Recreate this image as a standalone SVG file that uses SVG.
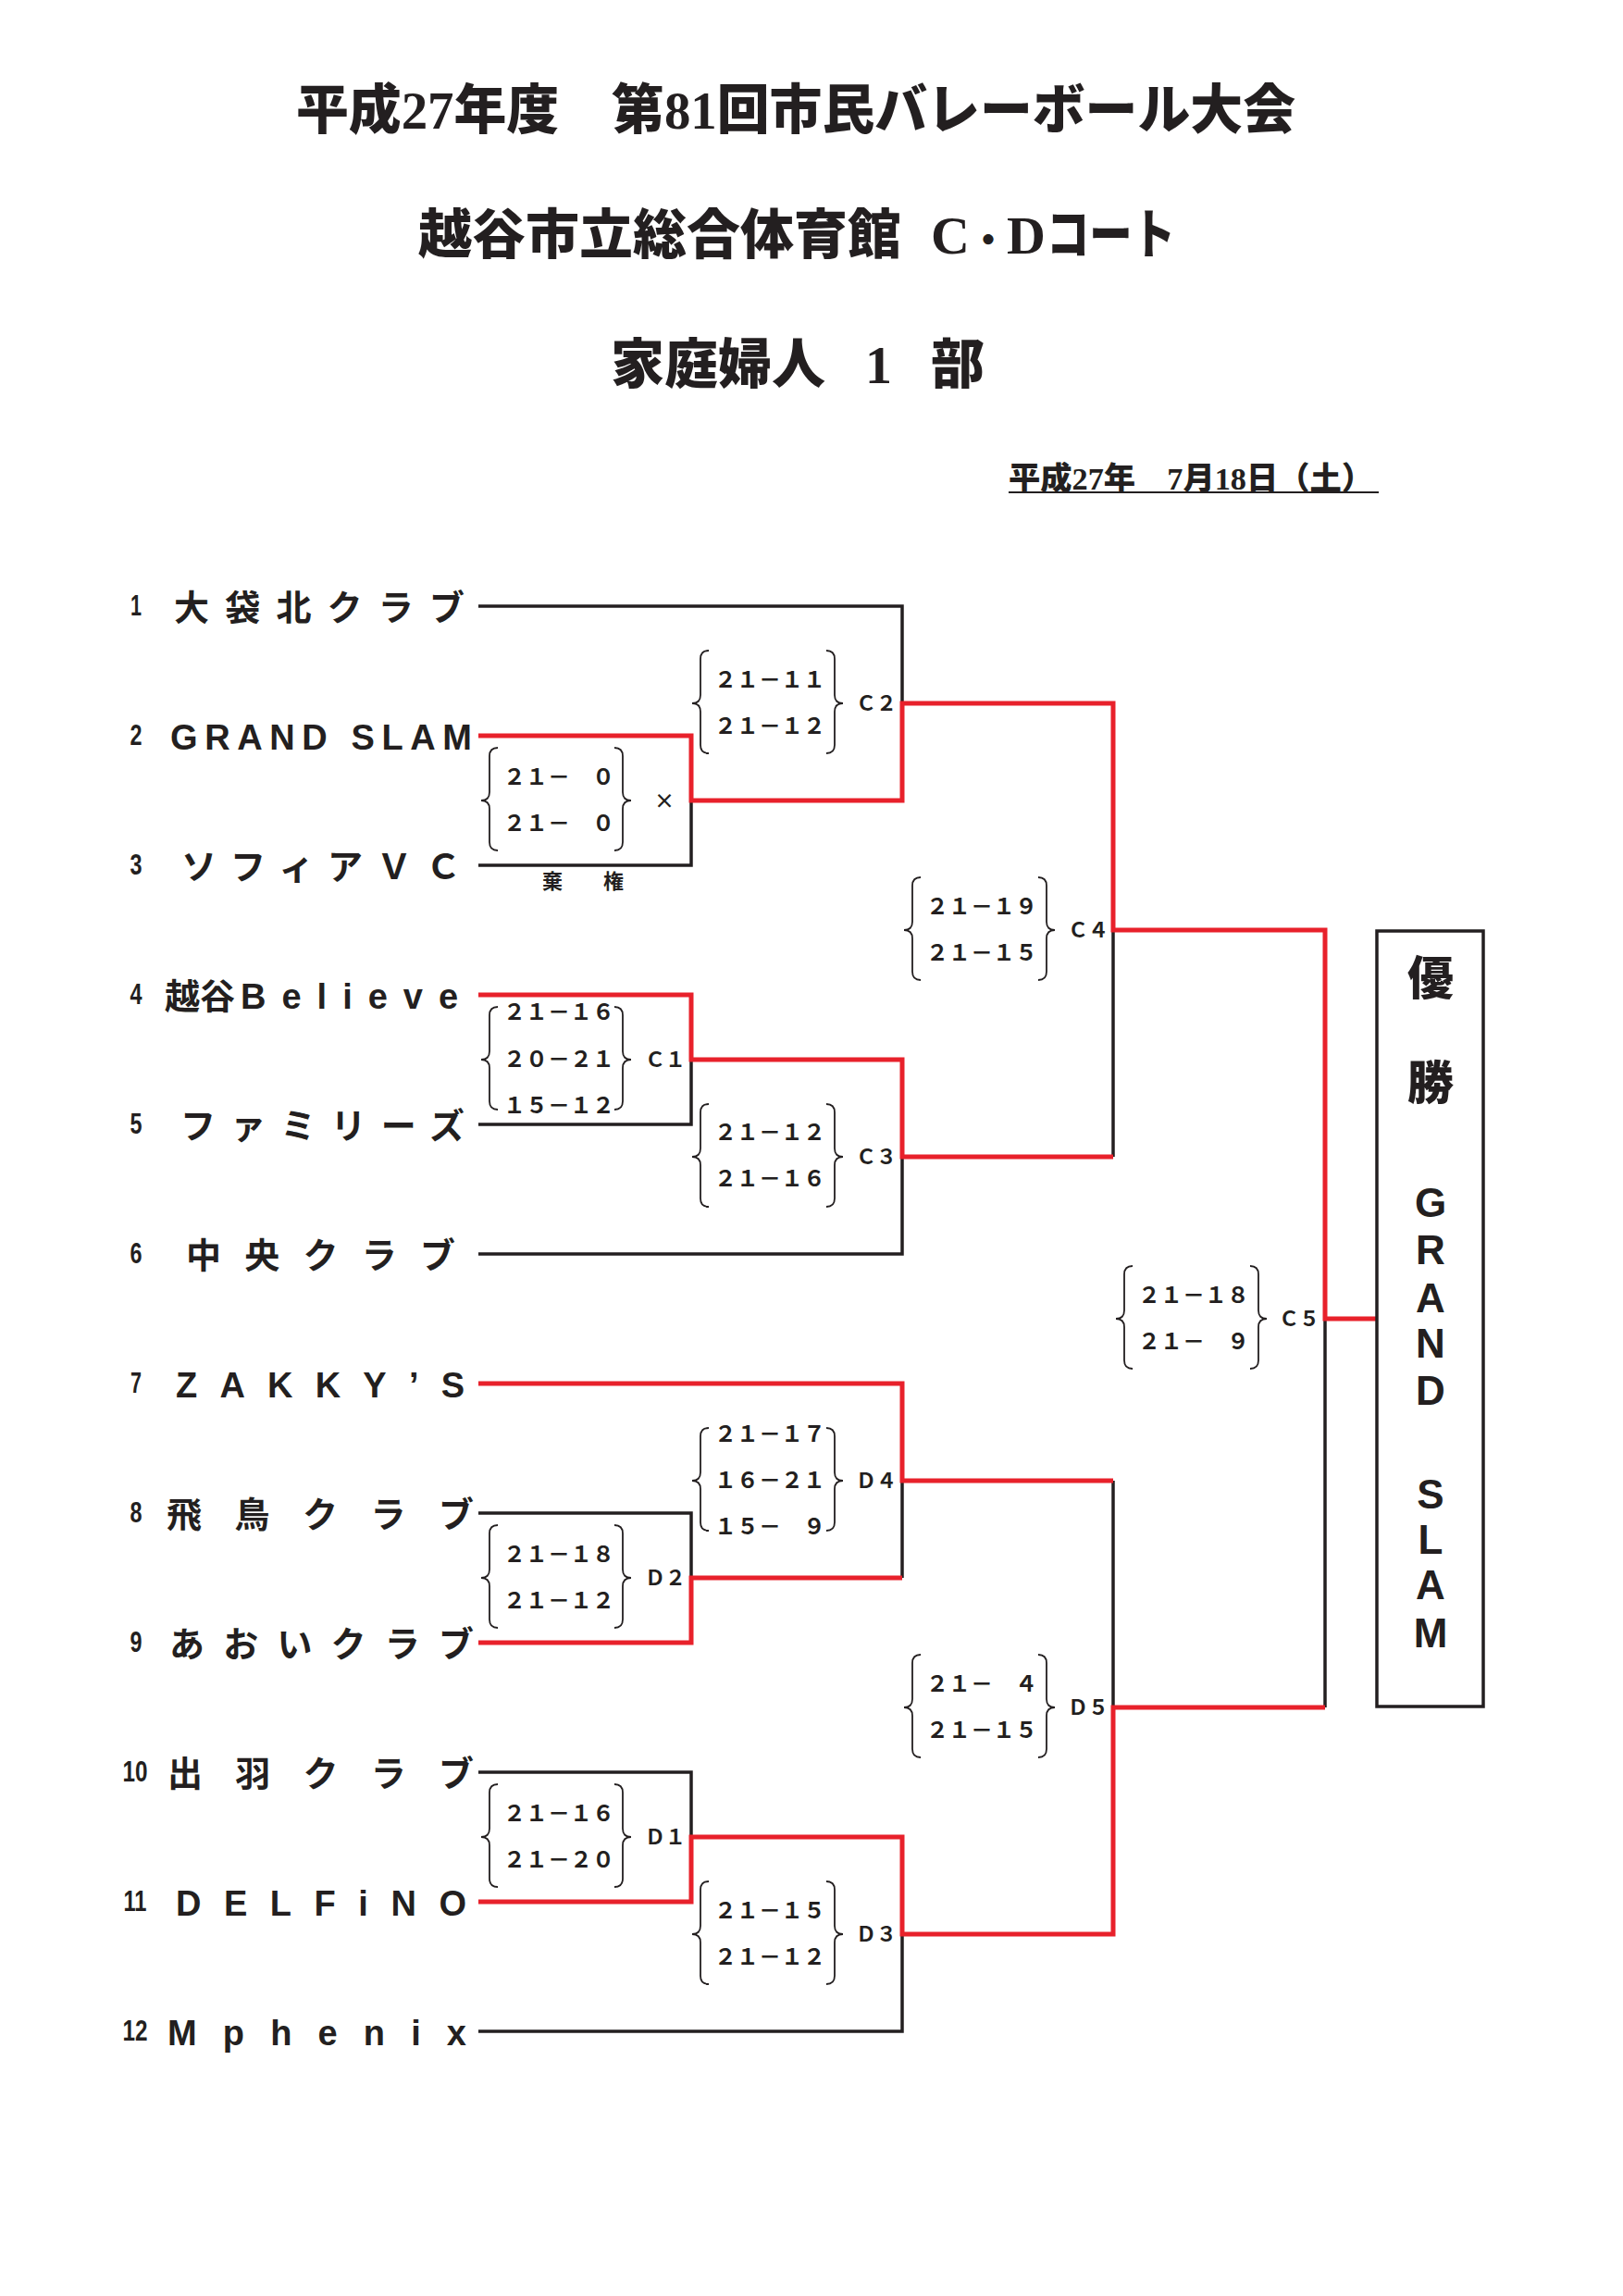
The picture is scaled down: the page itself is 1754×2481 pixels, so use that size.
<svg xmlns="http://www.w3.org/2000/svg" xmlns:xlink="http://www.w3.org/1999/xlink" width="1754" height="2481" viewBox="0 0 1754 2481">
<style>
.ttl{font-family:'Liberation Serif','Noto Sans CJK JP',serif;font-weight:900;fill:#231F20}
.nm{font-family:'Liberation Sans','Noto Sans CJK JP',sans-serif;font-weight:bold;font-size:38px;fill:#231F20}
.no{font-family:'Liberation Sans Narrow','Liberation Sans',sans-serif;font-weight:bold;font-size:31px;fill:#231F20;text-anchor:middle}
.sc{font-family:'Noto Sans CJK JP',sans-serif;font-weight:bold;font-size:24px;fill:#231F20}
.lb{font-family:'Noto Sans CJK JP',sans-serif;font-weight:bold;font-size:22px;fill:#231F20}
.bk{fill:none;stroke:#231F20;stroke-width:3.5;stroke-linejoin:miter}
.rd{fill:none;stroke:#E8212B;stroke-width:5;stroke-linejoin:miter}
.br{fill:none;stroke:#231F20;stroke-width:1.8}
.win{font-family:'Liberation Sans','Noto Sans CJK JP',sans-serif;font-weight:bold;font-size:44px;fill:#231F20;text-anchor:middle}
.wk{font-family:'Noto Sans CJK JP',sans-serif;font-weight:900;font-size:50px;fill:#231F20;text-anchor:middle}
</style>
<defs>
<path id="bl" d="M18,-57 Q9,-57 9,-48 V-9 Q9,0 0,0 Q9,0 9,9 V45 Q9,54 18,54"/>
<path id="brr" d="M-18,-57 Q-9,-57 -9,-48 V-9 Q-9,0 0,0 Q-9,0 -9,9 V45 Q-9,54 -18,54"/>
</defs>
<rect width="1754" height="2481" fill="#fff"/>

<g id="titles">
<text class="ttl" x="320" y="139" font-size="58" textLength="1080" lengthAdjust="spacingAndGlyphs">平成27年度　第81回市民バレーボール大会</text>
<text class="ttl" y="274" font-size="58"><tspan x="452">越谷市立総合体育館</tspan><tspan x="975" font-size="30">　</tspan><tspan x="1006">C</tspan><tspan x="1048" font-size="40">・</tspan><tspan x="1088">D</tspan><tspan x="1131" textLength="139" lengthAdjust="spacingAndGlyphs">コート</tspan></text>
<text class="ttl" y="414" font-size="58"><tspan x="660">家庭婦人</tspan><tspan x="892" font-size="43">　</tspan><tspan x="935">1</tspan><tspan x="964" font-size="42">　</tspan><tspan x="1006">部</tspan></text>
<text class="ttl" x="1090" y="529" font-size="34" textLength="394" lengthAdjust="spacingAndGlyphs">平成27年　7月18日（土）</text>
<line x1="1090" y1="532" x2="1490" y2="532" stroke="#231F20" stroke-width="2.2"/>
</g>

<g id="teams">
<g id="team1"><text class="no" x="147" y="665" textLength="12" lengthAdjust="spacingAndGlyphs">1</text><text class="nm" x="188" y="670" textLength="314" lengthAdjust="spacing">大袋北クラブ</text></g>
<g id="team2"><text class="no" x="147" y="805" textLength="13" lengthAdjust="spacingAndGlyphs">2</text><text class="nm" x="184" y="810" textLength="326" lengthAdjust="spacing">GRAND SLAM</text></g>
<g id="team3"><text class="no" x="147" y="945" textLength="13" lengthAdjust="spacingAndGlyphs">3</text><text class="nm" x="196" y="950" textLength="302" lengthAdjust="spacing">ソフィアＶＣ</text></g>
<g id="team4"><text class="no" x="147" y="1085" textLength="13" lengthAdjust="spacingAndGlyphs">4</text><text class="nm" x="178" y="1090">越谷<tspan x="260" letter-spacing="17">Believe</tspan></text></g>
<g id="team5"><text class="no" x="147" y="1225" textLength="13" lengthAdjust="spacingAndGlyphs">5</text><text class="nm" x="195" y="1230" textLength="307" lengthAdjust="spacing">ファミリーズ</text></g>
<g id="team6"><text class="no" x="147" y="1365" textLength="13" lengthAdjust="spacingAndGlyphs">6</text><text class="nm" x="201" y="1370" textLength="291" lengthAdjust="spacing">中央クラブ</text></g>
<g id="team7"><text class="no" x="147" y="1505" textLength="12" lengthAdjust="spacingAndGlyphs">7</text><text class="nm" x="190" y="1510" textLength="312" lengthAdjust="spacing">ZAKKY’S</text></g>
<g id="team8"><text class="no" x="147" y="1645" textLength="13" lengthAdjust="spacingAndGlyphs">8</text><text class="nm" x="180" y="1650" textLength="332" lengthAdjust="spacing">飛鳥クラブ</text></g>
<g id="team9"><text class="no" x="147" y="1785" textLength="13" lengthAdjust="spacingAndGlyphs">9</text><text class="nm" x="183" y="1790" textLength="329" lengthAdjust="spacing">あおいクラブ</text></g>
<g id="team10"><text class="no" x="146" y="1925" textLength="27" lengthAdjust="spacingAndGlyphs">10</text><text class="nm" x="181" y="1930" textLength="331" lengthAdjust="spacing">出羽クラブ</text></g>
<g id="team11"><text class="no" x="146" y="2065" textLength="25" lengthAdjust="spacingAndGlyphs">11</text><text class="nm" x="190" y="2070" textLength="314" lengthAdjust="spacing">DELFiNO</text></g>
<g id="team12"><text class="no" x="146" y="2205" textLength="27" lengthAdjust="spacingAndGlyphs">12</text><text class="nm" x="181" y="2210" textLength="323" lengthAdjust="spacing">Mphenix</text></g>
</g>

<g id="connectors">
<path class="bk" d="M517,655 H975 V760"/>
<path class="bk" d="M517,935 H747 V865"/>
<path class="bk" d="M517,1215 H747 V1145"/>
<path class="bk" d="M517,1355 H975 V1250"/>
<path class="bk" d="M1203,1005 V1250"/>
<path class="bk" d="M1432,1425 V1845"/>
<path class="bk" d="M517,1635 H747 V1705"/>
<path class="bk" d="M975,1600 V1705"/>
<path class="bk" d="M1203,1600 V1845"/>
<path class="bk" d="M517,1915 H747 V1985"/>
<path class="bk" d="M517,2195 H975 V2090"/>
<path class="rd" d="M517,795 H747 V865 H975 V760 H1203 V1005 H1432 V1425 H1488"/>
<path class="rd" d="M517,1075 H747 V1145 H975 V1250 H1203"/>
<path class="rd" d="M517,1495 H975 V1600 H1203"/>
<path class="rd" d="M517,1775 H747 V1705 H975"/>
<path class="rd" d="M517,2055 H747 V1985 H975 V2090 H1203 V1845 H1432"/>
</g>

<g id="matchX">
<use href="#bl" xlink:href="#bl" class="br" x="520" y="865"/>
<use href="#brr" xlink:href="#brr" class="br" x="682" y="865"/>
<text class="sc" x="544" y="848">２１－　０</text>
<text class="sc" x="544" y="898">２１－　０</text>
<text class="lb" x="718" y="873" text-anchor="middle">×</text>
<text class="lb" x="586" y="960" font-size="23">棄　　権</text>
</g>
<g id="matchC1">
<use href="#bl" xlink:href="#bl" class="br" x="520" y="1145"/>
<use href="#brr" xlink:href="#brr" class="br" x="682" y="1145"/>
<text class="sc" x="544" y="1102">２１－１６</text>
<text class="sc" x="544" y="1153">２０－２１</text>
<text class="sc" x="544" y="1203">１５－１２</text>
<text class="lb" x="697" y="1153">Ｃ１</text>
</g>
<g id="matchD2">
<use href="#bl" xlink:href="#bl" class="br" x="520" y="1705"/>
<use href="#brr" xlink:href="#brr" class="br" x="682" y="1705"/>
<text class="sc" x="544" y="1688">２１－１８</text>
<text class="sc" x="544" y="1738">２１－１２</text>
<text class="lb" x="697" y="1713">Ｄ２</text>
</g>
<g id="matchD1">
<use href="#bl" xlink:href="#bl" class="br" x="520" y="1985"/>
<use href="#brr" xlink:href="#brr" class="br" x="682" y="1985"/>
<text class="sc" x="544" y="1968">２１－１６</text>
<text class="sc" x="544" y="2018">２１－２０</text>
<text class="lb" x="697" y="1993">Ｄ１</text>
</g>
<g id="matchC2">
<use href="#bl" xlink:href="#bl" class="br" x="748" y="760"/>
<use href="#brr" xlink:href="#brr" class="br" x="911" y="760"/>
<text class="sc" x="772" y="743">２１－１１</text>
<text class="sc" x="772" y="793">２１－１２</text>
<text class="lb" x="925" y="768">Ｃ２</text>
</g>
<g id="matchC3">
<use href="#bl" xlink:href="#bl" class="br" x="748" y="1250"/>
<use href="#brr" xlink:href="#brr" class="br" x="911" y="1250"/>
<text class="sc" x="772" y="1232">２１－１２</text>
<text class="sc" x="772" y="1282">２１－１６</text>
<text class="lb" x="925" y="1258">Ｃ３</text>
</g>
<g id="matchD4">
<use href="#bl" xlink:href="#bl" class="br" x="748" y="1600"/>
<use href="#brr" xlink:href="#brr" class="br" x="911" y="1600"/>
<text class="sc" x="772" y="1558">２１－１７</text>
<text class="sc" x="772" y="1608">１６－２１</text>
<text class="sc" x="772" y="1658">１５－　９</text>
<text class="lb" x="925" y="1608">Ｄ４</text>
</g>
<g id="matchD3">
<use href="#bl" xlink:href="#bl" class="br" x="748" y="2090"/>
<use href="#brr" xlink:href="#brr" class="br" x="911" y="2090"/>
<text class="sc" x="772" y="2073">２１－１５</text>
<text class="sc" x="772" y="2123">２１－１２</text>
<text class="lb" x="925" y="2098">Ｄ３</text>
</g>
<g id="matchC4">
<use href="#bl" xlink:href="#bl" class="br" x="977" y="1005"/>
<use href="#brr" xlink:href="#brr" class="br" x="1140" y="1005"/>
<text class="sc" x="1001" y="988">２１－１９</text>
<text class="sc" x="1001" y="1038">２１－１５</text>
<text class="lb" x="1154" y="1013">Ｃ４</text>
</g>
<g id="matchD5">
<use href="#bl" xlink:href="#bl" class="br" x="977" y="1845"/>
<use href="#brr" xlink:href="#brr" class="br" x="1140" y="1845"/>
<text class="sc" x="1001" y="1828">２１－　４</text>
<text class="sc" x="1001" y="1878">２１－１５</text>
<text class="lb" x="1154" y="1853">Ｄ５</text>
</g>
<g id="matchC5">
<use href="#bl" xlink:href="#bl" class="br" x="1206" y="1425"/>
<use href="#brr" xlink:href="#brr" class="br" x="1369" y="1425"/>
<text class="sc" x="1230" y="1408">２１－１８</text>
<text class="sc" x="1230" y="1458">２１－　９</text>
<text class="lb" x="1382" y="1433">Ｃ５</text>
</g>

<g id="champion">
<rect x="1488" y="1006" width="115" height="838" fill="none" stroke="#231F20" stroke-width="3.5"/>
<text class="wk"><tspan x="1546" y="1075">優</tspan><tspan x="1546" y="1188">勝</tspan></text>
<text class="win"><tspan x="1546" y="1315">G</tspan><tspan x="1546" y="1366">R</tspan><tspan x="1546" y="1418">A</tspan><tspan x="1546" y="1467">N</tspan><tspan x="1546" y="1518">D</tspan><tspan x="1546" y="1630">S</tspan><tspan x="1546" y="1679">L</tspan><tspan x="1546" y="1728">A</tspan><tspan x="1546" y="1780">M</tspan></text>
</g>
</svg>
